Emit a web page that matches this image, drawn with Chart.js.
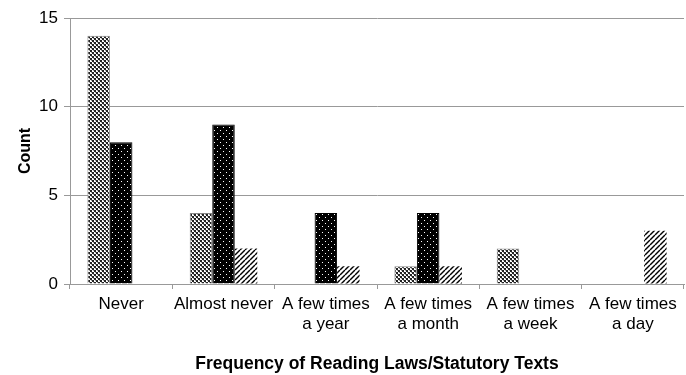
<!DOCTYPE html>
<html>
<head>
<meta charset="utf-8">
<script src="https://cdn.jsdelivr.net/npm/chart.js@4/dist/chart.umd.min.js"></script>
<style>
  html, body { margin: 0; padding: 0; background: #fff; }
  #wrap { width: 686px; height: 375px; }
</style>
</head>
<body>
<div id="wrap"><canvas id="myChart" width="686" height="375"></canvas></div>
<script>
const categories = [
  "Never",
  "Almost never",
  ["A few times", "a year"],
  ["A few times", "a month"],
  ["A few times", "a week"],
  ["A few times", "a day"],
];
const series1 = [14, 4, 0, 1, 2, 0];
const series2 = [8, 9, 4, 4, 0, 0];
const series3 = [0, 2, 1, 1, 0, 3];
const yTicks = [0, 5, 10, 15];

function makePattern(size, draw) {
  const c = document.createElement("canvas");
  c.width = size;
  c.height = size;
  const g = c.getContext("2d");
  draw(g, size);
  return c.getContext("2d").createPattern(c, "repeat");
}

// grey checker
const checker = makePattern(4, function (g) {
  g.fillStyle = "#fff";
  g.fillRect(0, 0, 4, 4);
  g.fillStyle = "#222";
  g.fillRect(0, 0, 2, 2);
  g.fillRect(2, 2, 2, 2);
  g.fillStyle = "#999";
  g.fillRect(1, 2, 1, 1);
  g.fillRect(3, 0, 1, 1);
});
// black with white dots
const dots = makePattern(6, function (g) {
  g.fillStyle = "#000";
  g.fillRect(0, 0, 6, 6);
  g.fillStyle = "#fff";
  g.fillRect(1, 1, 1, 1);
  g.fillRect(4, 4, 1, 1);
});
// white with diagonal lines
const hatch = makePattern(5, function (g, s) {
  g.fillStyle = "#fff";
  g.fillRect(0, 0, s, s);
  g.strokeStyle = "#000";
  g.lineWidth = 1.4;
  for (let k = -1; k <= 1; k++) {
    g.beginPath();
    g.moveTo(k * s, s);
    g.lineTo(k * s + s, 0);
    g.stroke();
  }
});

const ctx = document.getElementById("myChart");
const font = "'Liberation Sans', Arial, Helvetica, sans-serif";

const myChart = new Chart(ctx, {
  type: "bar",
  data: {
    labels: categories,
    datasets: [
      { label: "1", data: series1, backgroundColor: checker, borderColor: "#888", borderWidth: 1 },
      { label: "2", data: series2, backgroundColor: dots, borderColor: "#000", borderWidth: 1 },
      { label: "3", data: series3, backgroundColor: hatch, borderWidth: 0 },
    ],
  },
  options: {
    responsive: false,
    animation: false,
    layout: { padding: { top: 18, right: 2, left: 0, bottom: 0 } },
    datasets: {
      bar: { categoryPercentage: 0.66, barPercentage: 1.0 },
    },
    plugins: {
      legend: { display: false },
      tooltip: { enabled: false },
    },
    scales: {
      x: {
        grid: {
          offset: true,
          drawOnChartArea: false,
          drawTicks: true,
          tickLength: 5,
          color: "#999",
        },
        border: { color: "#999", width: 1 },
        ticks: {
          color: "#000",
          font: { family: font, size: 17 },
          maxRotation: 0,
          autoSkip: false,
          padding: 5,
        },
        title: {
          display: true,
          text: "Frequency of Reading Laws/Statutory Texts",
          color: "#000",
          font: { family: font, size: 17.5, weight: "bold" },
          padding: { top: 20, bottom: 0 },
        },
        afterFit: function (s) { s.height = 91; },
      },
      y: {
        min: 0,
        max: 15,
        afterBuildTicks: function (s) {
          s.ticks = yTicks.map(function (v) { return { value: v }; });
        },
        grid: { color: "#999", tickLength: 6 },
        border: { color: "#999", width: 1 },
        ticks: {
          color: "#000",
          font: { family: font, size: 17 },
          padding: 6,
        },
        title: {
          display: true,
          text: "Count",
          color: "#000",
          font: { family: font, size: 16, weight: "bold" },
          padding: { top: 16, bottom: 8 },
        },
        afterFit: function (s) { s.width = 70; },
      },
    },
  },
});
</script>
</body>
</html>
